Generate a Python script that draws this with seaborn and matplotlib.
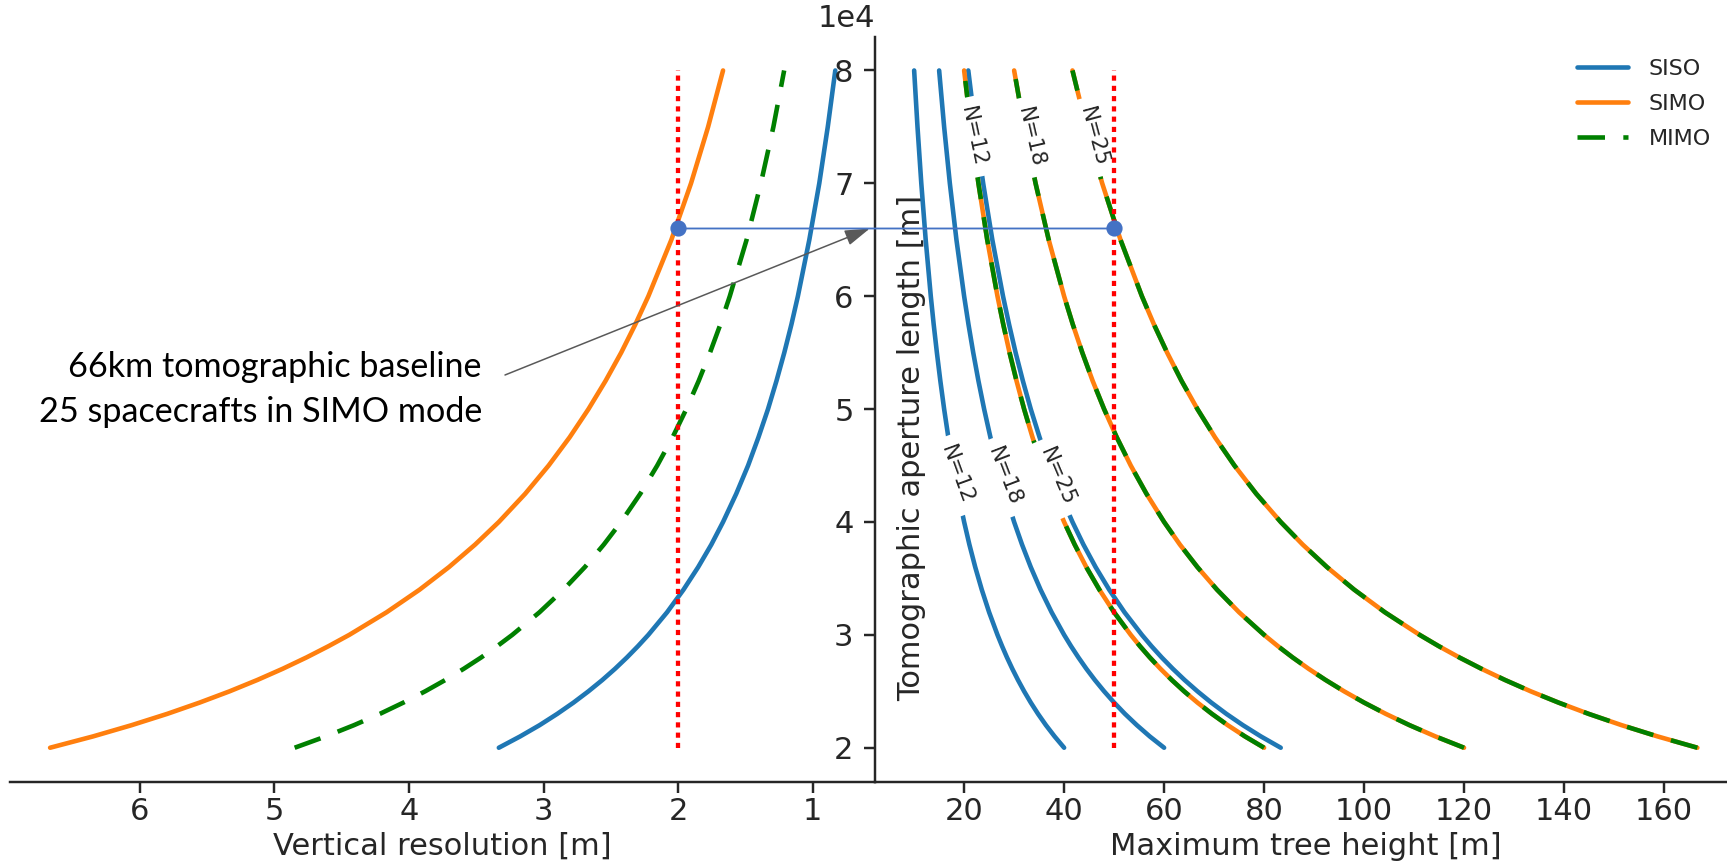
import numpy as np
import matplotlib
matplotlib.use("Agg")
import matplotlib.pyplot as plt
from matplotlib.lines import Line2D
from matplotlib.patches import ConnectionPatch
import seaborn as sns

# Tomographic aperture length [m] (denser where the curves bend most)
aperture = [20000, 21000, 22000, 23000, 24000, 25000, 26000, 27000, 28000, 29000,
            30000, 32000, 34000, 36000, 38000, 40000, 42500, 45000, 47500, 50000,
            52500, 55000, 57500, 60000, 65000, 70000, 75000, 80000]

# Vertical resolution [m] per acquisition mode
res_siso = [3.333, 3.175, 3.030, 2.899, 2.778, 2.667, 2.564, 2.469, 2.381, 2.299,
            2.222, 2.083, 1.961, 1.852, 1.754, 1.667, 1.569, 1.481, 1.404, 1.333,
            1.270, 1.212, 1.159, 1.111, 1.026, 0.952, 0.889, 0.833]
res_simo = [6.667, 6.349, 6.061, 5.797, 5.556, 5.333, 5.128, 4.938, 4.762, 4.598,
            4.444, 4.167, 3.922, 3.704, 3.509, 3.333, 3.137, 2.963, 2.807, 2.667,
            2.540, 2.424, 2.319, 2.222, 2.051, 1.905, 1.778, 1.667]
res_mimo = [4.850, 4.619, 4.409, 4.217, 4.042, 3.880, 3.731, 3.593, 3.464, 3.345,
            3.233, 3.031, 2.853, 2.694, 2.553, 2.425, 2.282, 2.156, 2.042, 1.940,
            1.848, 1.764, 1.687, 1.617, 1.492, 1.386, 1.293, 1.213]

# Maximum tree height [m] for N = 12, 18, 25 spacecrafts
n_labels = ["N=12", "N=18", "N=25"]
height_siso = {
    "N=12": [40.00, 38.10, 36.36, 34.78, 33.33, 32.00, 30.77, 29.63, 28.57, 27.59,
             26.67, 25.00, 23.53, 22.22, 21.05, 20.00, 18.82, 17.78, 16.84, 16.00,
             15.24, 14.55, 13.91, 13.33, 12.31, 11.43, 10.67, 10.00],
    "N=18": [60.00, 57.14, 54.55, 52.17, 50.00, 48.00, 46.15, 44.44, 42.86, 41.38,
             40.00, 37.50, 35.29, 33.33, 31.58, 30.00, 28.24, 26.67, 25.26, 24.00,
             22.86, 21.82, 20.87, 20.00, 18.46, 17.14, 16.00, 15.00],
    "N=25": [83.33, 79.37, 75.76, 72.46, 69.44, 66.67, 64.10, 61.73, 59.52, 57.47,
             55.56, 52.08, 49.02, 46.30, 43.86, 41.67, 39.22, 37.04, 35.09, 33.33,
             31.75, 30.30, 28.99, 27.78, 25.64, 23.81, 22.22, 20.83],
}
height_simo = {
    "N=12": [80.00, 76.19, 72.73, 69.57, 66.67, 64.00, 61.54, 59.26, 57.14, 55.17,
             53.33, 50.00, 47.06, 44.44, 42.11, 40.00, 37.65, 35.56, 33.68, 32.00,
             30.48, 29.09, 27.83, 26.67, 24.62, 22.86, 21.33, 20.00],
    "N=18": [120.00, 114.29, 109.09, 104.35, 100.00, 96.00, 92.31, 88.89, 85.71, 82.76,
             80.00, 75.00, 70.59, 66.67, 63.16, 60.00, 56.47, 53.33, 50.53, 48.00,
             45.71, 43.64, 41.74, 40.00, 36.92, 34.29, 32.00, 30.00],
    "N=25": [166.67, 158.73, 151.52, 144.93, 138.89, 133.33, 128.21, 123.46, 119.05, 114.94,
             111.11, 104.17, 98.04, 92.59, 87.72, 83.33, 78.43, 74.07, 70.18, 66.67,
             63.49, 60.61, 57.97, 55.56, 51.28, 47.62, 44.44, 41.67],
}
height_mimo = height_simo

# Inline curve labels: (x, y, rotation)
simo_label_pos = {"N=12": (21.8, 74100, -78), "N=18": (33.2, 74100, -77), "N=25": (45.8, 74100, -75)}
siso_label_pos = {"N=12": (18.6, 44170, -70), "N=18": (28.0, 44000, -69), "N=25": (38.6, 44000, -67)}

# Design point
req_resolution = 2.0
req_height = 50.0
design_aperture = 66000

sns.set_style("ticks")
plt.rcParams["font.family"] = ["DejaVu Sans"]
plt.rcParams["xtick.major.pad"] = 1.5

C_SISO = "#1f77b4"
C_SIMO = "#ff7f0e"
C_MIMO = "green"
DASH = (6, 4)

W, H, DPI = 1727, 861, 220
fig = plt.figure(figsize=(W / DPI, H / DPI), dpi=DPI)
y0, h = (H - 781.6) / H, (781.6 - 36.6) / H
ax_l = fig.add_axes([10.4 / W, y0, (875 - 10.4) / W, h])
ax_r = fig.add_axes([875 / W, y0, (1736.5 - 875) / W, h])

lw = 1.5
# Left panel: vertical resolution
sns.lineplot(x=res_simo, y=aperture, ax=ax_l, color=C_SIMO, sort=False, estimator=None, linewidth=lw)
sns.lineplot(x=res_mimo, y=aperture, ax=ax_l, color=C_MIMO, sort=False, estimator=None, linewidth=lw)
ax_l.lines[-1].set_dashes(DASH)
sns.lineplot(x=res_siso, y=aperture, ax=ax_l, color=C_SISO, sort=False, estimator=None, linewidth=lw)
ax_l.plot([req_resolution, req_resolution], [aperture[0], aperture[-1]], color="red",
          lw=1.4, dashes=(1.2, 1.2), zorder=2.5)

# Right panel: maximum tree height
for n in n_labels:
    sns.lineplot(x=height_siso[n], y=aperture, ax=ax_r, color=C_SISO, sort=False, estimator=None, linewidth=lw)
for n in n_labels:
    sns.lineplot(x=height_simo[n], y=aperture, ax=ax_r, color=C_SIMO, sort=False, estimator=None, linewidth=lw)
    sns.lineplot(x=height_mimo[n], y=aperture, ax=ax_r, color=C_MIMO, sort=False, estimator=None, linewidth=lw)
    ax_r.lines[-1].set_dashes(DASH)
ax_r.plot([req_height, req_height], [aperture[0], aperture[-1]], color="red",
          lw=1.4, dashes=(1.2, 1.2), zorder=2.6)

label_box = dict(boxstyle="square,pad=0.45", fc="white", ec="none")
for pos in (simo_label_pos, siso_label_pos):
    for n in n_labels:
        x, y, rot = pos[n]
        ax_r.text(x, y, n, rotation=rot, rotation_mode="anchor", ha="center", va="center",
                  fontsize=7, color="0.15", bbox=label_box, zorder=2.55)

# Axes limits, ticks and labels
ylim = (17000, 83000)
ax_l.set_xlim(6.962, 0.538)
ax_l.set_ylim(*ylim)
ax_l.set_xticks([6, 5, 4, 3, 2, 1])
ax_l.set_yticks([])
ax_l.set_xlabel("Vertical resolution [m]", labelpad=2)
ax_l.set_ylabel("")

ax_r.set_xlim(2.17, 174.5)
ax_r.set_ylim(*ylim)
ax_r.set_xticks([20, 40, 60, 80, 100, 120, 140, 160])
ax_r.set_yticks([20000, 30000, 40000, 50000, 60000, 70000, 80000])
ax_r.ticklabel_format(axis="y", style="sci", scilimits=(0, 0))
ax_r.yaxis.get_offset_text().set_ha("right")
ax_r.set_xlabel("Maximum tree height [m]", labelpad=2)
ax_r.set_ylabel("Tomographic aperture length [m]")
ax_r.yaxis.set_label_coords(0.059, 0.448)

for ax in (ax_l, ax_r):
    ax.set_facecolor("none")
sns.despine(ax=ax_l, left=True)
sns.despine(ax=ax_r)

# Legend, placed so that its first label starts at (1649, 69) px from the top-left
handles = [Line2D([], [], color=C_SISO, lw=lw),
           Line2D([], [], color=C_SIMO, lw=lw),
           Line2D([], [], color=C_MIMO, lw=lw, dashes=DASH)]
leg_fs = 7.3
leg_px = leg_fs * DPI / 72
anchor = [1568 / W, (H - 47) / H]
leg_kw = dict(loc="upper left", borderaxespad=0, frameon=False, fontsize=leg_fs,
              handlelength=2.3, handletextpad=0.95)
spacing = 0.55
leg = fig.legend(handles, ["SISO", "SIMO", "MIMO"], bbox_to_anchor=anchor,
                 labelspacing=spacing, **leg_kw)
fig.canvas.draw()
tb = [t.get_window_extent() for t in leg.get_texts()]
row_gap = ((tb[0].y0 + tb[0].y1) - (tb[2].y0 + tb[2].y1)) / 4
spacing += (35 - row_gap) / leg_px
leg.remove()
leg = fig.legend(handles, ["SISO", "SIMO", "MIMO"], bbox_to_anchor=anchor,
                 labelspacing=spacing, **leg_kw)
fig.canvas.draw()
tb0 = leg.get_texts()[0].get_window_extent()
anchor[0] += (1649 - tb0.x0) / W
anchor[1] += ((H - 69) - (tb0.y0 + tb0.y1) / 2) / H
leg.set_bbox_to_anchor(anchor, transform=fig.transFigure)

# Design point: 66 km baseline linking both requirements
ACCENT = "#4472C4"
link = ConnectionPatch(xyA=(req_resolution, design_aperture), coordsA=ax_l.transData,
                       xyB=(req_height, design_aperture), coordsB=ax_r.transData,
                       color=ACCENT, lw=0.6, zorder=5)
fig.add_artist(link)
ax_l.plot(req_resolution, design_aperture, "o", ms=4.3, color=ACCENT, clip_on=False, zorder=6)
ax_r.plot(req_height, design_aperture, "o", ms=4.3, color=ACCENT, clip_on=False, zorder=6)

ax_l.annotate("", xy=(0.994, design_aperture), xycoords=ax_l.get_yaxis_transform(),
              xytext=(505, H - 375), textcoords="figure pixels",
              arrowprops=dict(arrowstyle="-|>,head_length=0.7,head_width=0.22",
                              mutation_scale=10, color="#595959", lw=0.5,
                              shrinkA=0, shrinkB=0))
note_font = dict(family=["Lato", "DejaVu Sans"], fontsize=11.2, color="black")
fig.text(482 / W, (H - 377) / H, "66km tomographic baseline", ha="right", va="baseline", **note_font)
fig.text(482 / W, (H - 422) / H, "25 spacecrafts in SIMO mode", ha="right", va="baseline", **note_font)

fig.savefig("out.png", dpi=DPI)
